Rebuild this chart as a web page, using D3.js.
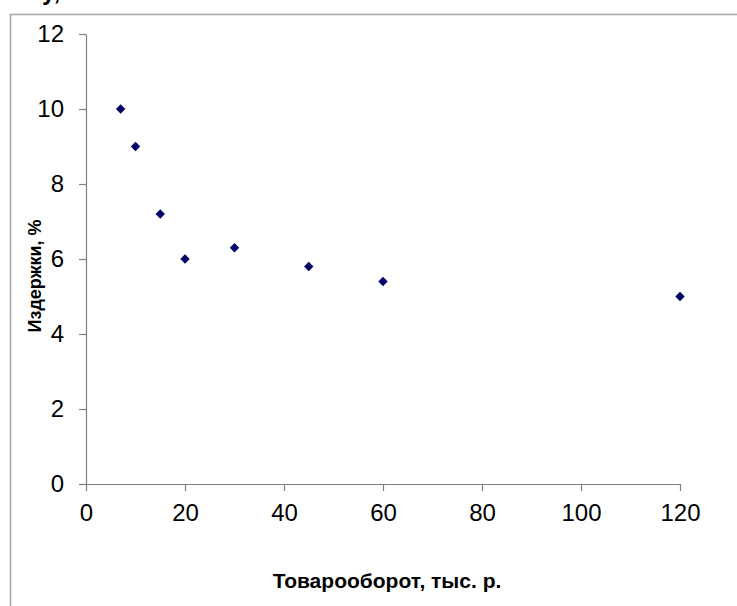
<!DOCTYPE html>
<html>
<head>
<meta charset="utf-8">
<script src="https://cdn.jsdelivr.net/npm/d3@7"></script>
<style>
  body { margin: 0; background: #fff; }
  text { font-family: "Liberation Sans", Arial, sans-serif; }
</style>
</head>
<body>
<svg id="chart" width="737" height="606"></svg>
<script>
// --- data ---
const turnover = [7, 10, 15, 20, 30, 45, 60, 120];
const costs = [10, 9, 7.2, 6, 6.3, 5.8, 5.4, 5];
const xTicks = [0, 20, 40, 60, 80, 100, 120];
const yTicks = [0, 2, 4, 6, 8, 10, 12];
const xTitle = 'Товарооборот, тыс. р.';
const yTitle = 'Издержки, %';

const svg = d3.select('#chart');
const plotL = 86, plotR = 680, plotT = 34, plotB = 484;

// leftover text of the page above the chart (cut off in the original too)
svg.append('text')
    .attr('x', 42).attr('y', 0)
    .style('font-size', '24px')
    .style('font-weight', 'bold')
    .text('у,');

// frame
svg.append('rect')
    .attr('x', 10.5).attr('y', 14.5)
    .attr('width', 740).attr('height', 600)
    .attr('fill', 'none')
    .attr('stroke', '#a8a8a8')
    .attr('stroke-width', 1.6);

const x = d3.scaleLinear().domain([0, 120]).range([plotL, plotR]);
const y = d3.scaleLinear().domain([0, 12]).range([plotB, plotT]);

const xAxis = d3.axisBottom(x).tickValues(xTicks).tickSize(7).tickPadding(13).tickSizeOuter(0);
const yAxis = d3.axisLeft(y).tickValues(yTicks).tickSize(7).tickPadding(15).tickSizeOuter(0);

const gx = svg.append('g').attr('transform', `translate(0,${plotB})`).call(xAxis);
const gy = svg.append('g').attr('transform', `translate(${plotL},0)`).call(yAxis);

[gx, gy].forEach(g => {
    g.select('.domain').attr('stroke', '#808080').attr('stroke-width', 1.2);
    g.selectAll('.tick line').attr('stroke', '#808080').attr('stroke-width', 1.2);
    g.selectAll('.tick text')
        .attr('fill', '#000')
        .style('font-size', '24px')
        .style('font-family', '"Liberation Sans", Arial, sans-serif');
});

// titles
svg.append('text')
    .attr('x', 387).attr('y', 588)
    .attr('text-anchor', 'middle')
    .style('font-size', '21px')
    .style('font-weight', 'bold')
    .text(xTitle);

svg.append('text')
    .attr('transform', 'translate(41,276) rotate(-90)')
    .attr('text-anchor', 'middle')
    .style('font-size', '18px')
    .style('font-weight', 'bold')
    .text(yTitle);

// markers: square turned 45deg, like Excel's diamond
const marker = d3.symbol().type(d3.symbolSquare).size(44);
svg.append('g').selectAll('path')
    .data(turnover)
    .join('path')
    .attr('d', marker)
    .attr('transform', (d, i) => `translate(${x(d)},${y(costs[i])}) rotate(45)`)
    .attr('fill', '#000066');
</script>
</body>
</html>
